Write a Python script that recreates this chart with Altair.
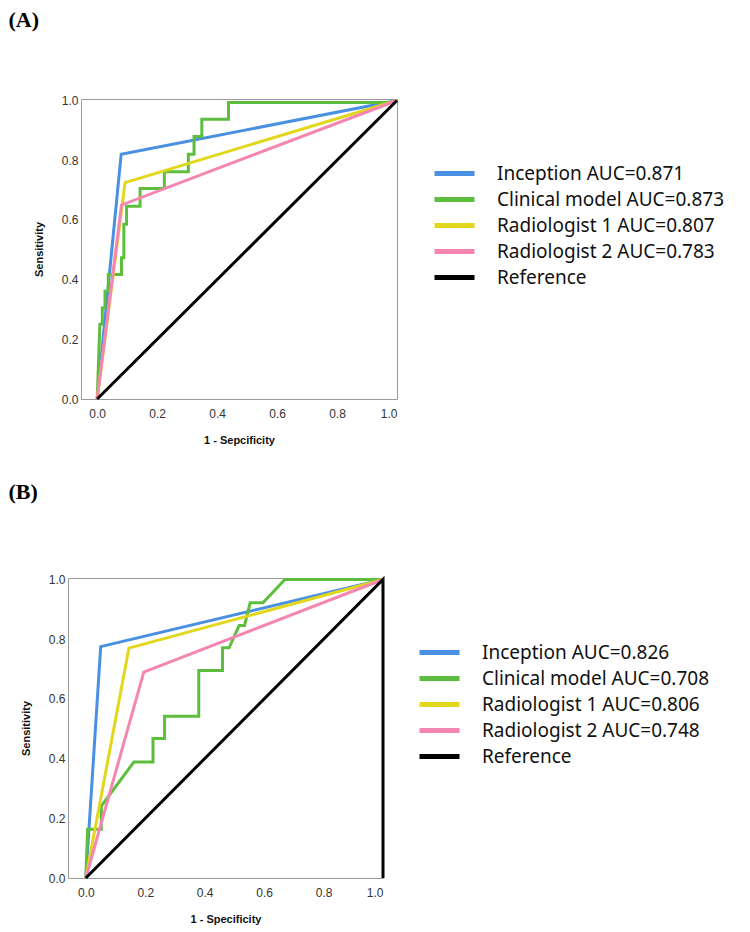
import altair as alt
import pandas as pd

# ---------------- data ----------------
colors = ["#4A90E2", "#5CBE3C", "#E2D71C", "#F586B2", "#000000"]

a_labels = ["Inception AUC=0.871", "Clinical model AUC=0.873",
            "Radiologist 1 AUC=0.807", "Radiologist 2 AUC=0.783", "Reference"]
b_labels = ["Inception AUC=0.826", "Clinical model AUC=0.708",
            "Radiologist 1 AUC=0.806", "Radiologist 2 AUC=0.748", "Reference"]

# Panel A (1 - specificity, sensitivity)
a_incep_x = [0.0, 0.08, 1.0]
a_incep_y = [0.0, 0.82, 1.0]
a_clin_x = [0.0, 0.009, 0.017, 0.017, 0.026, 0.026, 0.037, 0.037, 0.081, 0.081,
            0.089, 0.089, 0.098, 0.098, 0.143, 0.143, 0.224, 0.224, 0.304, 0.304,
            0.323, 0.323, 0.349, 0.349, 0.438, 0.438, 0.99, 1.0]
a_clin_y = [0.0, 0.25, 0.25, 0.305, 0.305, 0.361, 0.361, 0.417, 0.417, 0.473,
            0.473, 0.585, 0.585, 0.646, 0.646, 0.705, 0.705, 0.761, 0.761, 0.82,
            0.82, 0.879, 0.879, 0.937, 0.937, 0.993, 0.993, 1.0]
a_rad1_x = [0.0, 0.093, 1.0]
a_rad1_y = [0.0, 0.725, 1.0]
a_rad2_x = [0.0, 0.081, 1.0]
a_rad2_y = [0.0, 0.65, 1.0]
a_ref_x = [0.0, 1.0]
a_ref_y = [0.0, 1.0]

# Panel B
b_incep_x = [0.0, 0.05, 1.0]
b_incep_y = [0.0, 0.775, 1.0]
b_clin_x = [0.0, 0.006, 0.052, 0.052, 0.162, 0.226, 0.226, 0.265, 0.265, 0.38,
            0.38, 0.46, 0.46, 0.482, 0.516, 0.534, 0.553, 0.596, 0.67, 1.0]
b_clin_y = [0.0, 0.163, 0.163, 0.241, 0.389, 0.389, 0.467, 0.467, 0.542, 0.542,
            0.695, 0.695, 0.771, 0.771, 0.846, 0.846, 0.922, 0.922, 1.0, 1.0]
b_rad1_x = [0.0, 0.145, 1.0]
b_rad1_y = [0.0, 0.77, 1.0]
b_rad2_x = [0.0, 0.195, 1.0]
b_rad2_y = [0.0, 0.69, 1.0]
b_ref_x = [0.0, 1.0, 1.0]
b_ref_y = [0.0, 1.0, 0.0]

tick_vals = [0.0, 0.2, 0.4, 0.6, 0.8, 1.0]


def build_df(labels, xs_list, ys_list):
    rows = []
    for lab, xs, ys in zip(labels, xs_list, ys_list):
        for i, (x, y) in enumerate(zip(xs, ys)):
            rows.append({"series": lab, "fpr": x, "tpr": y, "ord": i})
    return pd.DataFrame(rows)


df_a = build_df(a_labels, [a_incep_x, a_clin_x, a_rad1_x, a_rad2_x, a_ref_x],
                [a_incep_y, a_clin_y, a_rad1_y, a_rad2_y, a_ref_y])
df_b = build_df(b_labels, [b_incep_x, b_clin_x, b_rad1_x, b_rad2_x, b_ref_x],
                [b_incep_y, b_clin_y, b_rad1_y, b_rad2_y, b_ref_y])


def panel(df, labels, xdom, xtitle, width, height, legend_x, legend_y):
    layers = []
    for lab in labels:
        layers.append(
            alt.Chart(df).transform_filter(alt.datum.series == lab)
            .mark_line(strokeWidth=3, clip=False)
            .encode(
                x=alt.X("fpr:Q",
                        scale=alt.Scale(domain=xdom, nice=False, zero=False),
                        axis=alt.Axis(values=tick_vals, format=".1f", title=xtitle,
                                      titleFont="Liberation Sans", titleFontSize=11,
                                      titleFontWeight="bold", titleColor="#111",
                                      titlePadding=15,
                                      labelFont="Liberation Sans", labelFontSize=12,
                                      labelColor="#333", labelPadding=9,
                                      ticks=False, domain=False, grid=False)),
                y=alt.Y("tpr:Q",
                        scale=alt.Scale(domain=[0, 1.005], nice=False),
                        axis=alt.Axis(values=tick_vals, format=".1f", title="Sensitivity",
                                      titleFont="Liberation Sans", titleFontSize=11,
                                      titleFontWeight="bold", titleColor="#111",
                                      titlePadding=17,
                                      labelFont="Liberation Sans", labelFontSize=12,
                                      labelColor="#333", labelPadding=3,
                                      ticks=False, domain=False, grid=False)),
                color=alt.Color("series:N",
                                scale=alt.Scale(domain=labels, range=colors),
                                legend=alt.Legend(title=None, orient="none",
                                                  legendX=legend_x, legendY=legend_y,
                                                  symbolType="M-2,0H2",
                                                  symbolStrokeWidth=5,
                                                  symbolSize=400,
                                                  labelFont="Noto Sans",
                                                  labelFontSize=19,
                                                  labelColor="#111",
                                                  labelOffset=30,
                                                  rowPadding=3,
                                                  padding=0,
                                                  labelLimit=400)),
                order=alt.Order("ord:Q"),
            )
        )
    return alt.layer(*layers).properties(width=width, height=height)


def spacer(w):
    return (alt.Chart(pd.DataFrame({"v": [0]}))
            .mark_point(size=0, opacity=0)
            .encode(x=alt.value(0), y=alt.value(0))
            .properties(width=w, height=1,
                        view=alt.ViewBackground(stroke="transparent")))


panel_a = panel(df_a, a_labels, [-0.054, 1.0], "1 - Sepcificity", 316, 300, 433, 62)
panel_b = panel(df_b, b_labels, [-0.06, 1.0], "1 - Specificity", 315, 300, 418, 62)

title_style = dict(anchor="start", font="Liberation Serif", fontSize=22,
                   fontWeight="bold", color="black")

group_a = alt.hconcat(spacer(22), panel_a, spacing=0,
                      title=alt.TitleParams("(A)", offset=62, **title_style))
group_b = alt.hconcat(spacer(9), panel_b, spacing=0,
                      title=alt.TitleParams("(B)", offset=69, **title_style))

chart = (alt.vconcat(group_a, group_b, spacing=34)
         .resolve_scale(color="independent")
         .resolve_legend(color="independent")
         .properties(padding={"left": 0, "top": 0, "right": 5, "bottom": 5})
         .configure_view(stroke="#999", strokeWidth=1))

chart.save("out.html", embed_options={"renderer": "svg", "actions": False})
